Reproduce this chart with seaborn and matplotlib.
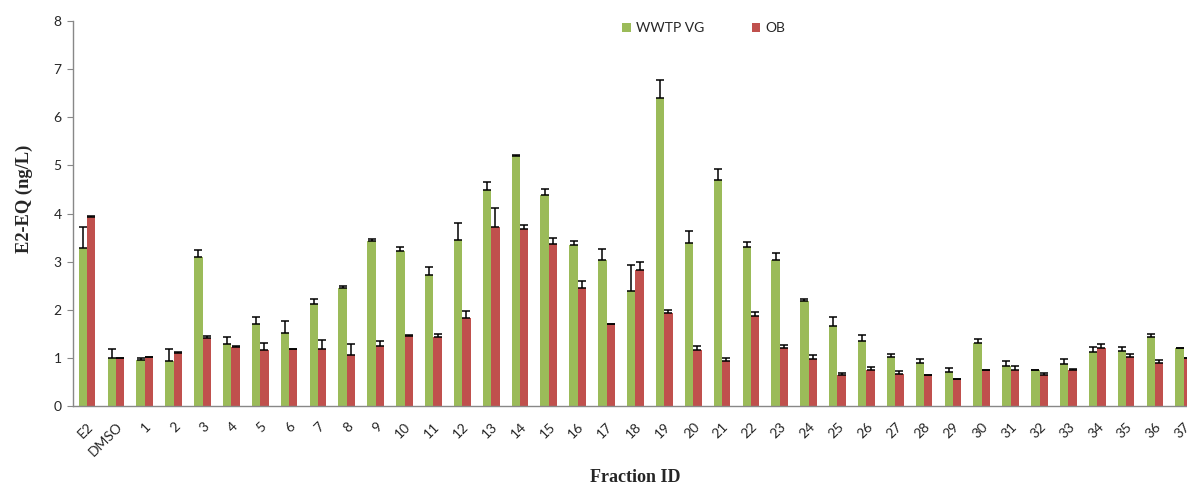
import matplotlib
matplotlib.use("Agg")
import matplotlib.pyplot as plt
import seaborn as sns
import pandas as pd
import numpy as np
from matplotlib.patches import Patch

categories = ["E2", "DMSO"] + [str(i) for i in range(1, 38)]

wwtp_vals = [3.28, 1.00, 0.97, 0.93, 3.10, 1.29, 1.70, 1.53, 2.12, 2.45,
             3.44, 3.22, 2.73, 3.46, 4.48, 5.20, 4.39, 3.35, 3.03, 2.39,
             6.39, 3.38, 4.70, 3.31, 3.03, 2.18, 1.67, 1.355, 1.02, 0.905,
             0.71, 1.32, 0.84, 0.75, 0.885, 1.13, 1.155, 1.43, 1.20]
wwtp_err = [0.44, 0.18, 0.04, 0.25, 0.14, 0.15, 0.15, 0.25, 0.11, 0.05,
            0.04, 0.09, 0.17, 0.35, 0.18, 0.01, 0.12, 0.08, 0.24, 0.54,
            0.37, 0.26, 0.22, 0.10, 0.16, 0.05, 0.18, 0.115, 0.07, 0.085,
            0.09, 0.08, 0.09, 0.01, 0.095, 0.11, 0.085, 0.08, 0.02]
ob_vals = [3.92, 1.00, 1.02, 1.10, 1.42, 1.24, 1.17, 1.18, 1.19, 1.07,
           1.26, 1.465, 1.44, 1.83, 3.71, 3.67, 3.37, 2.45, 1.70, 2.82,
           1.94, 1.17, 0.94, 1.87, 1.20, 0.99, 0.65, 0.75, 0.68, 0.64,
           0.565, 0.75, 0.75, 0.65, 0.75, 1.22, 1.02, 0.90, 0.995]
ob_err = [0.02, 0.01, 0.01, 0.02, 0.04, 0.01, 0.15, 0.01, 0.185, 0.22,
          0.09, 0.02, 0.07, 0.15, 0.40, 0.10, 0.12, 0.14, 0.01, 0.17,
          0.06, 0.09, 0.06, 0.08, 0.07, 0.08, 0.04, 0.065, 0.05, 0.005,
          0.01, 0.005, 0.08, 0.04, 0.02, 0.07, 0.06, 0.07, 0.01]

series = ["WWTP VG", "OB"]
colors = ["#9BBB59", "#C0504D"]

df = pd.DataFrame({
    "Fraction": categories * 2,
    "Series": [series[0]] * len(categories) + [series[1]] * len(categories),
    "Value": wwtp_vals + ob_vals,
})

sns.set_style("white")
plt.rcParams["font.family"] = ["Lato", "DejaVu Sans"]

fig = plt.figure(figsize=(11.87, 4.84), dpi=100)
ax = fig.add_axes([0.0612, 0.1605, 0.9388, 0.7967])

sns.barplot(data=df, x="Fraction", y="Value", hue="Series", order=categories,
            hue_order=series, palette=colors, width=0.58, errorbar=None,
            saturation=1, linewidth=0, ax=ax, legend=False)

# error bars (upper only) on top of the bars seaborn drew
errs = [wwtp_err, ob_err]
bar_containers = list(ax.containers)
for ci, cont in enumerate(bar_containers):
    xs = [p.get_x() + p.get_width() / 2 for p in cont.patches]
    hs = [p.get_height() for p in cont.patches]
    e = errs[ci]
    ax.errorbar(xs, hs, yerr=[np.zeros(len(e)), e], fmt="none", ecolor="black",
                elinewidth=1.1, capsize=3, capthick=1.1, zorder=3)

ax.set_ylim(0, 8)
ax.set_xlim(-0.5, 38.11)
ax.set_yticks(range(0, 9))
ax.tick_params(axis="y", labelsize=10, length=4, width=0.8, color="#888888",
               direction="out", left=True, pad=4)
ax.tick_params(axis="x", labelsize=10, length=0, pad=10)
plt.setp(ax.get_xticklabels(), rotation=45, ha="right", rotation_mode="anchor")

for s in ["top", "right"]:
    ax.spines[s].set_visible(False)
for s in ["left", "bottom"]:
    ax.spines[s].set_color("#888888")
    ax.spines[s].set_linewidth(1.0)

ax.set_ylabel("E2-EQ (ng/L)", fontfamily="Liberation Serif", fontweight="bold",
              fontsize=13.3)
ax.set_xlabel("Fraction ID", fontfamily="Liberation Serif", fontweight="bold",
              fontsize=13)
ax.xaxis.set_label_coords(0.505, -0.163)
ax.yaxis.set_label_coords(-0.036, 0.538)

handles = [Patch(facecolor=c, edgecolor="none") for c in colors]
fig.legend(handles, series, loc="center", bbox_to_anchor=(0.593, 0.942), ncol=2,
           frameon=False, fontsize=10, handlelength=0.6, handleheight=0.6,
           handletextpad=0.4, columnspacing=3.4)

fig.savefig("out.png", dpi=100)
